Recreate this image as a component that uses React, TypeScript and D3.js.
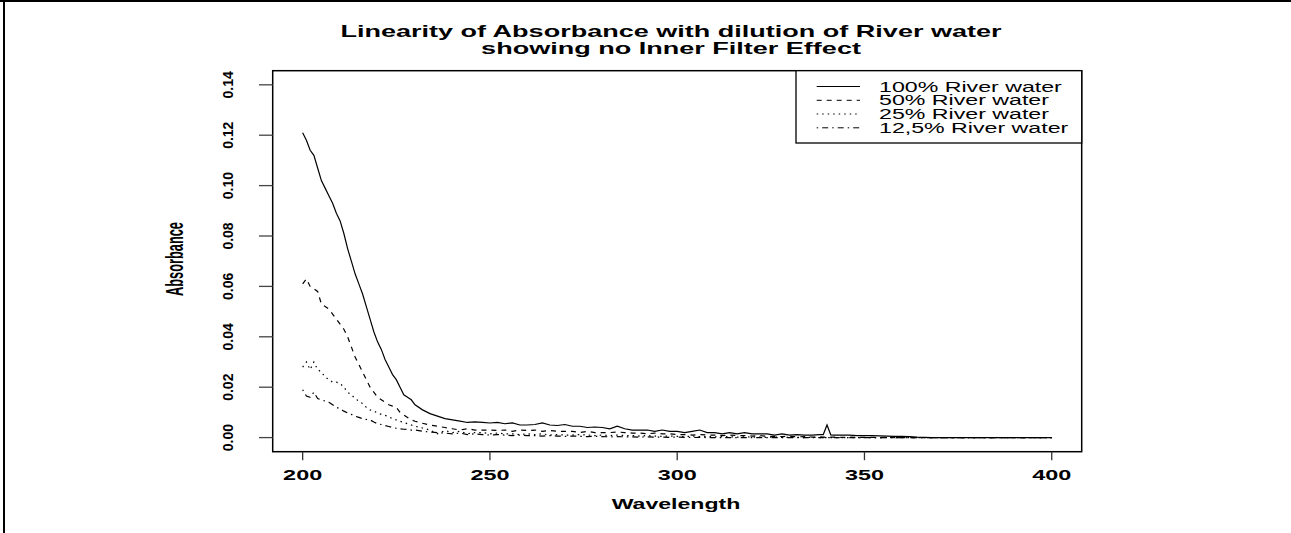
import React from "react";
import * as d3 from "d3";

const wavelength = [
  200, 201, 202, 203, 204, 205, 206, 207, 208, 209,
  210, 211, 212, 213, 214, 215, 216, 217, 218, 219,
  220, 221, 222, 223, 224, 225, 226, 227, 228, 229,
  230,
  232, 234, 236, 238, 240, 242, 244, 246, 248, 250,
  252, 254, 256, 258, 260, 262, 264, 266, 268, 270,
  272, 274, 276, 278, 280, 282, 284, 286, 288, 290,
  292, 294, 296, 298, 300, 302, 304, 306, 308, 310,
  312, 314, 316, 318, 320, 322, 324, 326, 328, 330,
  332, 334, 336, 338, 339, 340, 341, 342, 344, 346, 348, 350,
  352, 354, 356, 358, 360, 362, 364, 366, 368, 370,
  372, 374, 376, 378, 380, 382, 384, 386, 388, 390,
  392, 394, 396, 398, 400,
];

const river100 = [
  0.121, 0.118, 0.114, 0.112, 0.107, 0.102, 0.099, 0.096, 0.093, 0.089,
  0.086, 0.081, 0.075, 0.070, 0.065, 0.061, 0.057, 0.052, 0.047, 0.042,
  0.038, 0.035, 0.031, 0.028, 0.025, 0.023, 0.020, 0.017, 0.016, 0.015,
  0.013,
  0.011, 0.0095, 0.0085, 0.0075, 0.0070, 0.0065, 0.0060, 0.0062, 0.0060, 0.0058,
  0.0060, 0.0055, 0.0058, 0.0050, 0.0050, 0.0052, 0.0058, 0.0050, 0.0048, 0.0052,
  0.0045, 0.0045, 0.0040, 0.0042, 0.0040, 0.0035, 0.0045, 0.0035, 0.0030, 0.0030,
  0.0030, 0.0025, 0.0030, 0.0025, 0.0025, 0.0020, 0.0025, 0.0030, 0.0020, 0.0020,
  0.0015, 0.0020, 0.0015, 0.0020, 0.0015, 0.0015, 0.0015, 0.0010, 0.0015, 0.0010,
  0.0012, 0.0010, 0.0010, 0.0012, 0.0012, 0.0050, 0.0011, 0.0010, 0.0010, 0.0010, 0.0008, 0.0008,
  0.0008, 0.0007, 0.0006, 0.0005, 0.0005, 0.0004, 0.0002, 0.0001, 0, 0,
  0, 0, 0, 0, 0, 0, 0, 0, 0, 0,
  0, 0, 0, 0, 0,
];

const river50 = [
  0.061, 0.063, 0.060, 0.059, 0.058, 0.053, 0.052, 0.051, 0.049, 0.047,
  0.045, 0.043, 0.040, 0.036, 0.032, 0.029, 0.026, 0.023, 0.020, 0.018,
  0.016, 0.015, 0.014, 0.013, 0.0125, 0.012, 0.010, 0.009, 0.008, 0.007,
  0.0065,
  0.0057, 0.0050, 0.0045, 0.0040, 0.0035, 0.0030, 0.0035, 0.0030, 0.0030, 0.0030,
  0.0028, 0.0030, 0.0025, 0.0030, 0.0028, 0.0030, 0.0025, 0.0028, 0.0025, 0.0025,
  0.0025, 0.0020, 0.0025, 0.0020, 0.0020, 0.0020, 0.0022, 0.0020, 0.0018, 0.0018,
  0.0015, 0.0018, 0.0015, 0.0015, 0.0012, 0.0012, 0.0010, 0.0012, 0.0010, 0.0010,
  0.0008, 0.0010, 0.0008, 0.0008, 0.0006, 0.0008, 0.0005, 0.0005, 0.0004, 0.0005,
  0.0003, 0.0004, 0.0002, 0.0003, 0.0002, 0.0002, 0.0002, 0.0002, 0.0001, 0.0002, 0.0001, 0.0001,
  0.0001, 0, 0.0001, 0, 0, 0, 0, 0, 0, 0,
  0, 0, 0, 0, 0, 0, 0, 0, 0, 0,
  0, 0, 0, 0, 0,
];

const river25 = [
  0.028, 0.030, 0.027, 0.030, 0.027, 0.026, 0.024, 0.023, 0.022, 0.022,
  0.0215, 0.020, 0.018, 0.017, 0.0155, 0.0145, 0.0135, 0.012, 0.011, 0.0105,
  0.0098, 0.0092, 0.0088, 0.0083, 0.0075, 0.0070, 0.0065, 0.0060, 0.0055, 0.0050,
  0.0045,
  0.0038, 0.0030, 0.0015, 0.0028, 0.0020, 0.0025, 0.0015, 0.0020, 0.0020, 0.0015,
  0.0018, 0.0015, 0.0015, 0.0012, 0.0015, 0.0012, 0.0015, 0.0010, 0.0012, 0.0010,
  0.0010, 0.0012, 0.0010, 0.0008, 0.0010, 0.0008, 0.0010, 0.0008, 0.0008, 0.0006,
  0.0008, 0.0006, 0.0005, 0.0006, 0.0005, 0.0004, 0.0006, 0.0004, 0.0004, 0.0003,
  0.0004, 0.0003, 0.0002, 0.0003, 0.0002, 0.0002, 0.0001, 0.0002, 0.0001, 0.0001,
  0.0001, 0, 0.0001, 0, 0, 0, 0, 0, 0, 0, 0, 0,
  0, 0, 0, 0, 0, 0, 0, 0, 0, 0,
  0, 0, 0, 0, 0, 0, 0, 0, 0, 0,
  0, 0, 0, 0, 0,
];

const river12 = [
  0.019, 0.0165, 0.016, 0.018, 0.0155, 0.015, 0.0145, 0.014, 0.013, 0.012,
  0.0115, 0.0105, 0.0098, 0.0092, 0.0085, 0.0080, 0.0075, 0.0072, 0.0070, 0.0062,
  0.0055, 0.0052, 0.0048, 0.0044, 0.0040, 0.0037, 0.0035, 0.0033, 0.0032, 0.0030,
  0.0030,
  0.0025, 0.0022, 0.0020, 0.0018, 0.0015, 0.0018, 0.0012, 0.0015, 0.0012, 0.0010,
  0.0012, 0.0010, 0.0008, 0.0010, 0.0008, 0.0008, 0.0006, 0.0008, 0.0006, 0.0005,
  0.0006, 0.0005, 0.0004, 0.0005, 0.0004, 0.0003, 0.0004, 0.0003, 0.0003, 0.0002,
  0.0003, 0.0002, 0.0002, 0.0001, 0.0002, 0.0001, 0, 0.0001, 0, 0,
  0, 0, 0, 0, 0, 0, 0, 0, 0, 0,
  0, 0, 0, 0, 0, 0, 0, 0, 0, 0, 0, 0,
  0, 0, 0, 0, 0, 0, 0, 0, 0, 0,
  0, 0, 0, 0, 0, 0, 0, 0, 0, 0,
  0, 0, 0, 0, 0,
];

const seriesNames = ["100% River water", "50% River water", "25% River water", "12,5% River water"];
const seriesValues = [river100, river50, river25, river12];
const seriesDash = ["none", "5 5", "1.5 4", "1.5 4 6 4"];

const xTicks = [200, 250, 300, 350, 400];
const yTicks = [0, 0.02, 0.04, 0.06, 0.08, 0.1, 0.12, 0.14];
const yTickLabels = ["0.00", "0.02", "0.04", "0.06", "0.08", "0.10", "0.12", "0.14"];

const titleLines = ["Linearity of Absorbance with dilution of River water", "showing no Inner Filter Effect"];
const xLabel = "Wavelength";
const yLabel = "Absorbance";

const W = 1291;
const H = 533;
const plot = { left: 272.7, right: 1081.7, top: 70.7, bottom: 451.7 };
const SX = 1.6;
const FONT = "'Liberation Sans', Arial, Helvetica, sans-serif";

export default function App() {
  const xPad = (400 - 200) * 0.04;
  const yPad = (0.14 - 0) * 0.04;
  const x = d3.scaleLinear().domain([200 - xPad, 400 + xPad]).range([plot.left, plot.right]);
  const y = d3.scaleLinear().domain([0 - yPad, 0.14 + yPad]).range([plot.bottom, plot.top]);

  const line = d3
    .line<number>()
    .x((_, i) => x(wavelength[i]))
    .y((d) => y(d));

  const legend = { left: 796, top: plot.top, right: plot.right, bottom: 143, rowY: [86.5, 100.3, 114, 127.8] };

  return (
    <svg width={W} height={H} style={{ position: "absolute", left: 0, top: 0, background: "#fff" }}>
      <rect x={0} y={0} width={W} height={H} fill="#fff" />
      {/* outer frame (top and left) */}
      <line x1={0} x2={W} y1={1} y2={1} stroke="#000" strokeWidth={2} />
      <line x1={4} x2={4} y1={0} y2={H} stroke="#000" strokeWidth={2} />

      {/* title */}
      {titleLines.map((t, i) => (
        <text
          key={i}
          transform={`translate(671,${[36.7, 53.5][i]}) scale(${SX},1)`}
          textAnchor="middle"
          fontFamily={FONT}
          fontWeight="bold"
          fontSize={16.9}
          fill="#000"
        >
          {t}
        </text>
      ))}

      {/* series */}
      {seriesValues.map((vals, i) => (
        <path
          key={i}
          d={line(vals) || ""}
          fill="none"
          stroke="#000"
          strokeWidth={1.2}
          strokeDasharray={seriesDash[i]}
        />
      ))}

      {/* plot box */}
      <rect
        x={plot.left}
        y={plot.top}
        width={plot.right - plot.left}
        height={plot.bottom - plot.top}
        fill="none"
        stroke="#000"
        strokeWidth={1.5}
      />

      {/* x axis */}
      {xTicks.map((t) => (
        <g key={t}>
          <line x1={x(t)} x2={x(t)} y1={plot.bottom} y2={plot.bottom + 8.5} stroke="#333" strokeWidth={1.3} />
          <text
            transform={`translate(${x(t)},480) scale(1.65,1)`}
            textAnchor="middle"
            fontFamily={FONT}
            fontWeight="bold"
            fontSize={14.2}
          >
            {t}
          </text>
        </g>
      ))}
      <text
        transform={`translate(676,509) scale(1.65,1)`}
        textAnchor="middle"
        fontFamily={FONT}
        fontWeight="bold"
        fontSize={14}
      >
        {xLabel}
      </text>

      {/* y axis */}
      {yTicks.map((t, i) => (
        <g key={t}>
          <line x1={259} x2={plot.left} y1={y(t)} y2={y(t)} stroke="#444" strokeWidth={1.3} />
          <text
            transform={`translate(233.3,${y(t)}) scale(1.1,1) rotate(-90)`}
            textAnchor="middle"
            fontFamily={FONT}
            fontWeight="bold"
            fontSize={14}
          >
            {yTickLabels[i]}
          </text>
        </g>
      ))}
      <text
        transform={`translate(183,259) scale(1.8,1) rotate(-90)`}
        textAnchor="middle"
        fontFamily={FONT}
        fontWeight="bold"
        fontSize={12.8}
      >
        {yLabel}
      </text>

      {/* legend */}
      <rect
        x={legend.left}
        y={legend.top}
        width={legend.right - legend.left}
        height={legend.bottom - legend.top}
        fill="#fff"
        stroke="#000"
        strokeWidth={1.3}
      />
      {seriesNames.map((n, i) => (
        <g key={n}>
          <line
            x1={816.7}
            x2={860}
            y1={legend.rowY[i]}
            y2={legend.rowY[i]}
            stroke="#000"
            strokeWidth={1}
            strokeDasharray={seriesDash[i]}
          />
          <text
            transform={`translate(879,${legend.rowY[i] + 5}) scale(1.68,1)`}
            fontFamily={FONT}
            fontSize={13.8}
          >
            {n}
          </text>
        </g>
      ))}
    </svg>
  );
}
